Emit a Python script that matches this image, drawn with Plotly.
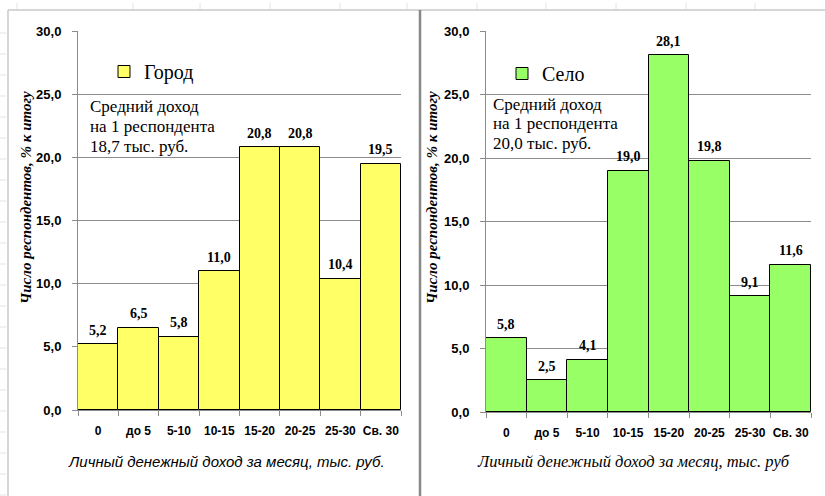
import plotly.graph_objects as go

# Income groups, thousand roubles per month
categories = ["0", "до 5", "5-10", "10-15", "15-20", "20-25", "25-30", "Св. 30"]

# Share of respondents, % of total
city_values = [5.2, 6.5, 5.8, 11.0, 20.8, 20.8, 10.4, 19.5]
village_values = [5.8, 2.5, 4.1, 19.0, 28.1, 19.8, 9.1, 11.6]

city_name = "Город"
village_name = "Село"
city_note = ["Средний доход", "на 1 респондента", "18,7 тыс. руб."]
village_note = ["Средний доход", "на 1 респондента", "20,0 тыс. руб."]
y_title = "Число респондентов, % к итогу"
x_title_city = "Личный денежный доход за месяц, тыс. руб."
x_title_village = "Личный денежный доход за месяц, тыс. руб"

W, H = 825, 496
SERIF = "Liberation Serif"
SANS = "Liberation Sans"
GRID = "#8c8c8c"


def px_x(v):
    return v / W


def px_y(v):
    return 1 - v / H


fig = go.Figure()

fig.add_trace(go.Bar(
    x=categories, y=city_values, name=city_name,
    marker=dict(color="#FFFF66", line=dict(color="black", width=1)),
    xaxis="x", yaxis="y", legend="legend",
))
fig.add_trace(go.Bar(
    x=categories, y=village_values, name=village_name,
    marker=dict(color="#99FF66", line=dict(color="black", width=1)),
    xaxis="x2", yaxis="y2", legend="legend2",
))

xaxis_common = dict(
    type="category", tickson="boundaries", ticks="outside", ticklen=5,
    tickcolor=GRID, showline=True, linecolor=GRID, linewidth=1,
    showgrid=False, zeroline=False, tickangle=0, automargin=False,
    tickfont=dict(family=SANS, size=12, color="black", weight="bold"),
    ticklabelstandoff=10, fixedrange=True,
)
yaxis_common = dict(
    range=[0, 30], dtick=5, tickformat=".1f", ticks="outside", ticklen=5,
    tickcolor=GRID, showline=True, linecolor=GRID, linewidth=1,
    showgrid=True, gridcolor=GRID, gridwidth=1, zeroline=False,
    automargin=False,
    tickfont=dict(family=SANS, size=13, color="black", weight="bold"),
    ticklabelstandoff=8, fixedrange=True,
)

fig.update_layout(
    width=W, height=H,
    margin=dict(l=0, r=0, t=0, b=0, autoexpand=False),
    paper_bgcolor="white", plot_bgcolor="white",
    separators=", ",
    bargap=0,
    xaxis=dict(domain=[px_x(78), px_x(401)], anchor="y", **xaxis_common),
    yaxis=dict(domain=[px_y(410), px_y(31)], anchor="x", **yaxis_common),
    xaxis2=dict(domain=[px_x(486), px_x(811)], anchor="y2", **xaxis_common),
    yaxis2=dict(domain=[px_y(412), px_y(31)], anchor="x2", **yaxis_common),
    legend=dict(x=px_x(104), y=px_y(52), xanchor="left", yanchor="top",
                bgcolor="rgba(0,0,0,0)", font=dict(family=SERIF, size=20, color="black")),
    legend2=dict(x=px_x(502), y=px_y(54), xanchor="left", yanchor="top",
                 bgcolor="rgba(0,0,0,0)", font=dict(family=SERIF, size=20, color="black")),
    showlegend=True,
)

annotations = []

# value labels above each bar, placed on the data axes
label_font = dict(family=SERIF, size=14, color="black", weight="bold")
for vals, xr, yr in [(city_values, "x", "y"), (village_values, "x2", "y2")]:
    for cat, v in zip(categories, vals):
        annotations.append(dict(
            text=f"{v:.1f}".replace(".", ","), x=cat, y=v, xref=xr, yref=yr,
            xanchor="center", yanchor="middle", yshift=14, font=label_font))

for note, x0, y0 in [(city_note, 88, 107), (village_note, 491, 104)]:
    for i, line in enumerate(note):
        annotations.append(dict(
            text=line, x=px_x(x0), y=px_y(y0 + 19.5 * i), xref="paper", yref="paper",
            xanchor="left", yanchor="middle", align="left",
            font=dict(family=SERIF, size=17, color="black")))

title_font = dict(family=SERIF, size=15, color="black", weight="bold", style="italic")
annotations += [
    dict(text=y_title, textangle=-90, x=px_x(26), y=px_y(198), font=title_font),
    dict(text=y_title, textangle=-90, x=px_x(432), y=px_y(198), font=title_font),
    dict(text=x_title_city, x=px_x(226), y=px_y(461),
         font=dict(family=SANS, size=15, color="black", style="italic")),
    dict(text=x_title_village, x=px_x(633), y=px_y(461),
         font=dict(family=SERIF, size=16.5, color="black", style="italic")),
]
for a in annotations[-4:]:
    a.update(xref="paper", yref="paper", xanchor="center", yanchor="middle")
for a in annotations:
    a.update(showarrow=False)
fig.update_layout(annotations=annotations)

# Chart frames on the worksheet
frame = "#c8c8c8"
shapes = [
    dict(type="line", x0=px_x(8), x1=px_x(8), y0=0, y1=px_y(10), line=dict(color=frame, width=1.5)),
    dict(type="line", x0=px_x(8), x1=1, y0=px_y(10), y1=px_y(10), line=dict(color=frame, width=1.5)),
    dict(type="line", x0=px_x(420), x1=px_x(420), y0=0, y1=px_y(10), line=dict(color="#888888", width=2.5)),
]
# faint worksheet cell grid peeking outside the frames
for xv in [17, 133, 200, 270, 340, 407, 477, 546, 616, 686, 755]:
    shapes.append(dict(type="line", x0=px_x(xv), x1=px_x(xv), y0=px_y(3), y1=px_y(9),
                       line=dict(color="#dce3ee", width=1)))
for yv in range(33, 496, 21):
    shapes.append(dict(type="line", x0=0, x1=px_x(6), y0=px_y(yv), y1=px_y(yv),
                       line=dict(color="#dce3ee", width=1)))
for s in shapes:
    s.update(xref="paper", yref="paper", layer="above")
fig.update_layout(shapes=shapes)

fig.write_html("out.html")
